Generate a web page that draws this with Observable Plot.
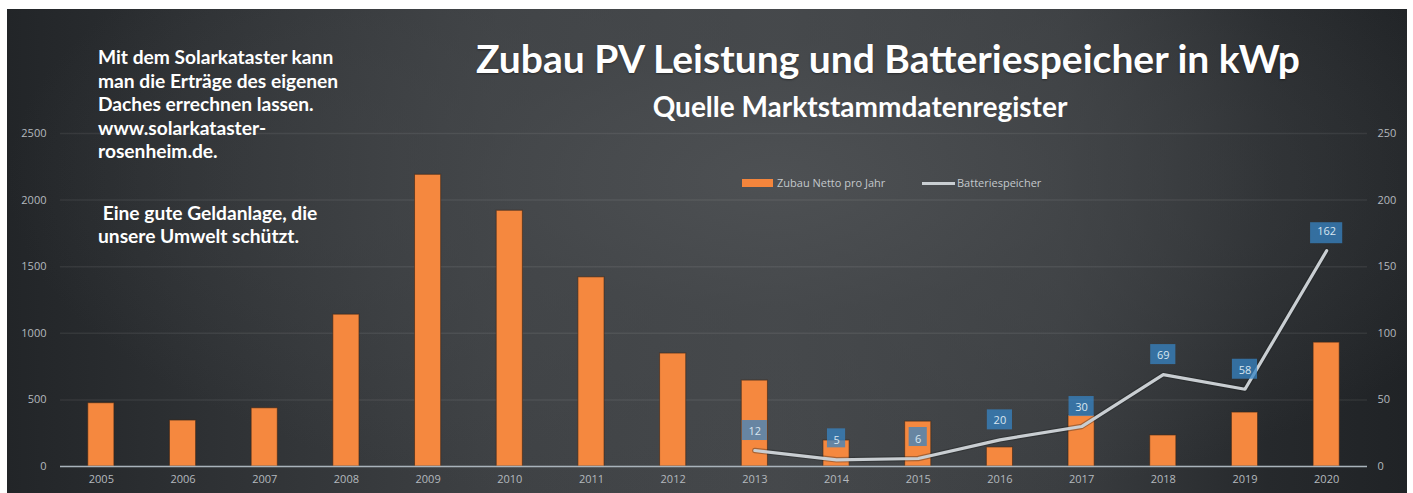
<!DOCTYPE html>
<html>
<head>
<meta charset="utf-8">
<script src="https://cdn.jsdelivr.net/npm/d3@7"></script>
<script src="https://cdn.jsdelivr.net/npm/@observablehq/plot@0.6"></script>
<style>
  html, body { margin: 0; padding: 0; background: #ffffff; }
  #wrap { position: relative; width: 1413px; height: 493px; overflow: hidden; background: #ffffff; }
  #bg { position: absolute; left: 7px; top: 9px; width: 1400px; height: 484px;
    background:
      radial-gradient(ellipse 55% 70% at 55% 35%, rgba(78,81,84,0.9) 0%, rgba(70,73,76,0.6) 40%, rgba(60,63,66,0) 100%),
      linear-gradient(90deg, #222528 0%, #2c2f32 12%, #3e4144 35%, #45484b 55%, #3b3e41 75%, #26292c 90%, #202326 100%); }
  #chart { position: absolute; left: 0; top: 0; }
  .t { position: absolute; font-family: Lato, "Noto Sans", sans-serif; font-weight: 700; color: #ffffff; white-space: nowrap; }
  #title { left: 0; width: 1776px; text-align: center; top: 34px; font-size: 39px; line-height: 48px; text-shadow: 0 1px 2px rgba(0,0,0,0.4); }
  #subtitle { left: 0; width: 1720px; text-align: center; top: 89px; font-size: 28px; line-height: 34px; }
  #note { left: 98px; top: 45px; font-size: 19.2px; line-height: 23.5px; }
  .leg { position: absolute; font-family: "Open Sans", sans-serif; font-size: 11px; color: #c3c8cc; line-height: 14px; white-space: nowrap; }
  .sw { position: absolute; }
</style>
</head>
<body>
<div id="wrap">
  <div id="bg"></div>
  <div id="chart"></div>
  <div class="t" id="title">Zubau PV Leistung und Batteriespeicher in kWp</div>
  <div class="t" id="subtitle">Quelle Marktstammdatenregister</div>
  <div class="t" id="note">Mit dem Solarkataster kann<br>man die Erträge des eigenen<br>Daches errechnen lassen.<br>www.solarkataster-<br>rosenheim.de.<br><div style="height:38px"></div>&nbsp;Eine gute Geldanlage, die<br>unsere Umwelt schützt.</div>
  <div class="sw" style="left:742px; top:179px; width:31px; height:8px; background:#f4853c;"></div>
  <div class="leg" style="left:777px; top:176px;">Zubau Netto pro Jahr</div>
  <div class="sw" style="left:922px; top:182px; width:33px; height:3px; background:#c9ced2;"></div>
  <div class="leg" style="left:957px; top:176px;">Batteriespeicher</div>
</div>
<script>
const years = ["2005","2006","2007","2008","2009","2010","2011","2012","2013","2014","2015","2016","2017","2018","2019","2020"];
const zubauNetto = [475, 345, 437, 1140, 2190, 1920, 1420, 848, 645, 195, 337, 143, 383, 233, 405, 930];
const battYears = ["2013","2014","2015","2016","2017","2018","2019","2020"];
const batteriespeicher = [12, 5, 6, 20, 30, 69, 58, 162];
const leftTicks = [0, 500, 1000, 1500, 2000, 2500];
const rightTicks = [0, 50, 100, 150, 200, 250];

const ratio = leftTicks[leftTicks.length - 1] / rightTicks[rightTicks.length - 1];
const pv = years.map((year, i) => ({year, v: zubauNetto[i]}));
const batt = battYears.map((year, i) => ({year, v: batteriespeicher[i]}));

const boxFill = "#3784c4";
const boxOpacity = 0.75;
const digits = n => batt.filter(d => String(d.v).length === n);

const chart = Plot.plot({
  width: 1413,
  height: 493,
  marginLeft: 60,
  marginRight: 46,
  marginTop: 133,
  marginBottom: 27,
  style: {background: "transparent", fontFamily: "'Open Sans', sans-serif", overflow: "visible"},
  x: {type: "band", domain: years, paddingInner: 0.68, paddingOuter: 0.34, round: false},
  y: {domain: [0, leftTicks[leftTicks.length - 1]]},
  marks: [
    Plot.gridY(leftTicks, {stroke: "#ffffff", strokeOpacity: 0.07, strokeWidth: 1.5}),
    Plot.axisY(leftTicks, {anchor: "left", tickSize: 0, tickPadding: 14, fontSize: 11, fill: "#b4b9be", label: null, tickFormat: d => String(d)}),
    Plot.axisY(leftTicks, {anchor: "right", tickSize: 0, tickPadding: 10, fontSize: 11, fill: "#b4b9be", label: null, tickFormat: d => String(d / ratio)}),
    Plot.axisX({tickSize: 0, tickPadding: 9, fontSize: 11, fill: "#b4b9be", label: null}),
    Plot.barY(pv, {x: "year", y: "v", fill: "#f5883f", stroke: "#3d2414", strokeOpacity: 0.6, strokeWidth: 1}),
    Plot.ruleY([0], {stroke: "#a9b3bb", strokeWidth: 1.5}),
    Plot.line(batt, {x: "year", y: d => d.v * ratio, stroke: "#1a1c1e", strokeOpacity: 0.35, strokeWidth: 5.5}),
    Plot.line(batt, {x: "year", y: d => d.v * ratio, stroke: "#c9ced2", strokeWidth: 3.2}),
    Plot.barY(digits(1), {x: "year", y1: d => d.v * ratio, y2: d => d.v * ratio, insetTop: -31, insetBottom: 12, insetLeft: 4, insetRight: 4, fill: boxFill, fillOpacity: boxOpacity}),
    Plot.barY(digits(2), {x: "year", y1: d => d.v * ratio, y2: d => d.v * ratio, insetTop: -30, insetBottom: 10, insetLeft: 0.5, insetRight: 0.5, fill: boxFill, fillOpacity: boxOpacity}),
    Plot.barY(digits(3), {x: "year", y1: d => d.v * ratio, y2: d => d.v * ratio, insetTop: -28, insetBottom: 7, insetLeft: -3, insetRight: -3, fill: boxFill, fillOpacity: boxOpacity}),
    Plot.text(batt, {x: "year", y: d => d.v * ratio, text: d => String(d.v), fill: "#d8e6f1", fontSize: 11, dy: -19})
  ]
});
document.getElementById("chart").appendChild(chart);
</script>
</body>
</html>
